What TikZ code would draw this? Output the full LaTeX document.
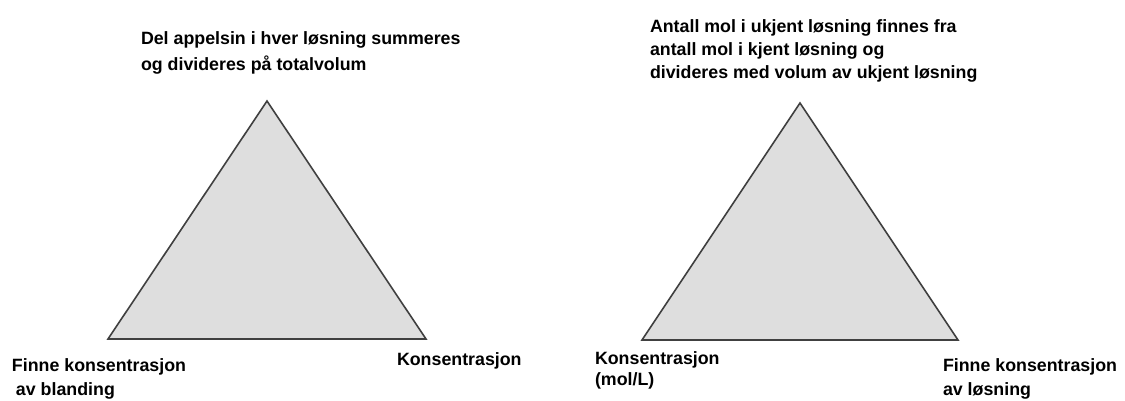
\documentclass[tikz,border=0pt]{standalone}
\usepackage{fontspec}
\setmainfont{Liberation Sans}
\tikzset{
  tri/.style={fill=black!13, draw=black!75, line width=1.6pt, line join=miter},
  lbl/.style={anchor=base west, inner sep=0pt, outer sep=0pt, align=left,
    font=\bfseries\fontsize{17.8}{24}\selectfont}
}
\begin{document}
\begin{tikzpicture}[x=1pt,y=-1pt]
\useasboundingbox (0,0) rectangle (1125,400);
% left triangle
\coordinate (LA) at (267,101);
\coordinate (LB) at (108,339);
\coordinate (LC) at (426,339);
\filldraw[tri] (LA) -- (LB) -- (LC) -- cycle;
% right triangle
\coordinate (RA) at (800,103);
\coordinate (RB) at (642,340);
\coordinate (RC) at (958,340);
\filldraw[tri] (RA) -- (RB) -- (RC) -- cycle;
% labels left (base = baseline of last line)
\node[lbl, font=\bfseries\fontsize{17.8}{26}\selectfont] (ltop) at (141,70) {Del appelsin i hver løsning summeres\\og divideres på totalvolum};
\node[lbl] (lbl1) at (12,395) {Finne konsentrasjon\\\hspace*{4pt}av blanding};
\node[lbl] (lbr) at (397,365) {Konsentrasjon};
% labels right
\node[lbl, font=\bfseries\fontsize{17.8}{23}\selectfont] (rtop) at (650,78) {Antall mol i ukjent løsning finnes fra\\antall mol i kjent løsning og\\divideres med volum av ukjent løsning};
\node[lbl, font=\bfseries\fontsize{17.8}{21}\selectfont] (rbl) at (595,385) {Konsentrasjon\\(mol/L)};
\node[lbl] (rbr) at (943,395) {Finne konsentrasjon\\av løsning};
\end{tikzpicture}
\end{document}
